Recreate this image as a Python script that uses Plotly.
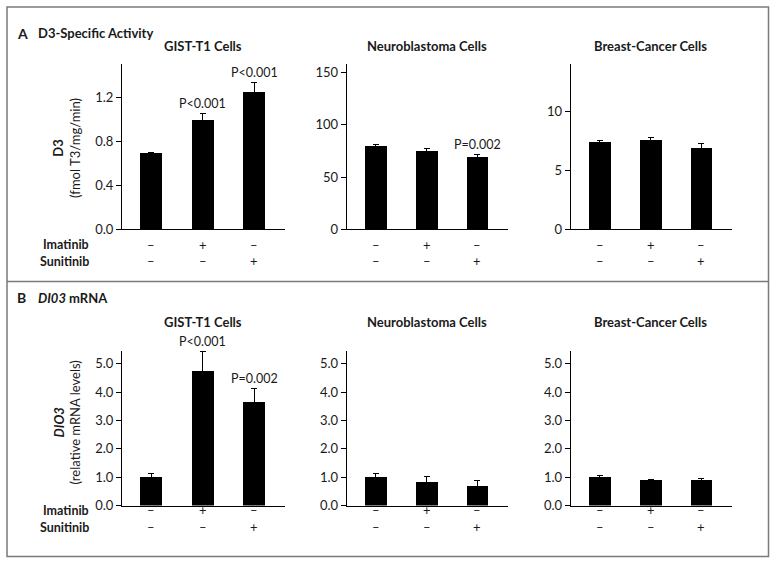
import plotly.graph_objects as go

W, H = 776, 571

conditions = ["Control", "Imatinib", "Sunitinib"]
imatinib_signs = ["–", "+", "–"]
sunitinib_signs = ["–", "–", "+"]
cell_lines = ["GIST-T1 Cells", "Neuroblastoma Cells", "Breast-Cancer Cells"]

# Panel A: D3-specific activity (fmol T3/mg/min)
d3_gist = [0.69, 0.99, 1.25]
d3_gist_err = [0.01, 0.065, 0.085]
d3_neuro = [80, 75, 69]
d3_neuro_err = [1, 2, 3]
d3_breast = [7.37, 7.58, 6.9]
d3_breast_err = [0.12, 0.18, 0.35]

# Panel B: DIO3 mRNA (relative levels)
dio3_gist = [1.0, 4.76, 3.66]
dio3_gist_err = [0.12, 0.68, 0.48]
dio3_neuro = [1.0, 0.84, 0.70]
dio3_neuro_err = [0.12, 0.17, 0.19]
dio3_breast = [1.01, 0.89, 0.89]
dio3_breast_err = [0.04, 0.03, 0.07]

# P-value labels: (row, col, condition index, text)
p_labels = [
    (0, 0, 1, "P<0.001"), (0, 0, 2, "P<0.001"),
    (0, 1, 2, "P=0.002"),
    (1, 0, 1, "P<0.001"), (1, 0, 2, "P=0.002"),
]

y_ranges = [[[0, 1.5], [0, 158], [0, 14]], [[0, 5.45], [0, 5.45], [0, 5.45]]]
y_ticks = [[[0, 0.4, 0.8, 1.2], [0, 50, 100, 150], [0, 5, 10]],
           [[0, 1, 2, 3, 4, 5]] * 3]
y_fmt = [[".1f", "d", "d"], [".1f", ".1f", ".1f"]]

data = [[(d3_gist, d3_gist_err), (d3_neuro, d3_neuro_err), (d3_breast, d3_breast_err)],
        [(dio3_gist, dio3_gist_err), (dio3_neuro, dio3_neuro_err), (dio3_breast, dio3_breast_err)]]

FONT = "Lato"
TXT = "#1a1a1a"

def px(x):
    return x / W

def py(y):
    return 1 - y / H

col_px = [(122, 285), (346.7, 508), (570.7, 732)]
row_px = [(65, 232.7), (356, 512.7)]
title_y = [47, 326.5]
sign_y = [(248, 265), (527.7, 544.3)]

fig = go.Figure()
layout = {}
annotations = []

for r in range(2):
    for c in range(3):
        idx = r * 3 + c + 1
        xa = "x" if idx == 1 else f"x{idx}"
        ya = "y" if idx == 1 else f"y{idx}"
        vals, errs = data[r][c]
        fig.add_trace(go.Bar(
            x=[0, 1, 2], y=vals, width=0.43,
            marker=dict(color="black", line=dict(width=0)),
            error_y=dict(type="data", array=errs, visible=True,
                         color="black", thickness=1, width=3),
            xaxis=xa, yaxis=ya, showlegend=False, hoverinfo="skip",
        ))
        layout[f"xaxis{'' if idx == 1 else idx}"] = dict(
            domain=[px(col_px[c][0]), px(col_px[c][1])],
            range=[-0.57, 2.6], showticklabels=False, ticks="",
            showline=True, linecolor="black", linewidth=1,
            showgrid=False, zeroline=False, anchor=ya, fixedrange=True,
        )
        layout[f"yaxis{'' if idx == 1 else idx}"] = dict(
            domain=[py(row_px[r][1]), py(row_px[r][0])],
            range=y_ranges[r][c], tickvals=y_ticks[r][c], tickformat=y_fmt[r][c],
            ticks="outside", ticklen=5, tickwidth=1, tickcolor="black",
            showline=True, linecolor="black", linewidth=1,
            showgrid=False, zeroline=False, anchor=xa,
            tickfont=dict(family=FONT, size=13, color=TXT), fixedrange=True,
        )
        # column title
        annotations.append(dict(
            text=f"<b>{cell_lines[c]}</b>", xref=xa, yref="paper",
            x=1, y=py(title_y[r]), showarrow=False, xanchor="center", yanchor="middle",
            font=dict(family=FONT, size=13, color=TXT)))
        # treatment signs
        for i in range(3):
            annotations.append(dict(
                text=imatinib_signs[i], xref=xa, yref="paper", x=i, y=py(sign_y[r][0]),
                showarrow=False, font=dict(family=FONT, size=13, color=TXT)))
            annotations.append(dict(
                text=sunitinib_signs[i], xref=xa, yref="paper", x=i, y=py(sign_y[r][1]),
                showarrow=False, font=dict(family=FONT, size=13, color=TXT)))
    # row labels for treatments
    annotations.append(dict(text="<b>Imatinib</b>", xref="paper", yref="paper",
                            x=px(91), y=py(sign_y[r][0]), xanchor="right", showarrow=False,
                            font=dict(family=FONT, size=12.5, color=TXT)))
    annotations.append(dict(text="<b>Sunitinib</b>", xref="paper", yref="paper",
                            x=px(91), y=py(sign_y[r][1]), xanchor="right", showarrow=False,
                            font=dict(family=FONT, size=12.5, color=TXT)))

for (r, c, i, t) in p_labels:
    idx = r * 3 + c + 1
    xa = "x" if idx == 1 else f"x{idx}"
    ya = "y" if idx == 1 else f"y{idx}"
    vals, errs = data[r][c]
    annotations.append(dict(text=t, xref=xa, yref=ya, x=i, y=vals[i] + errs[i],
                            yanchor="bottom", yshift=0, showarrow=False,
                            font=dict(family=FONT, size=12.5, color=TXT)))

# panel headers
annotations += [
    dict(text="<b>A</b>", xref="paper", yref="paper", x=px(15), y=py(23),
         xanchor="left", showarrow=False, font=dict(family=FONT, size=14, color=TXT)),
    dict(text="<b>D3-Specific Activity</b>", xref="paper", yref="paper", x=px(36), y=py(23.5),
         xanchor="left", showarrow=False, font=dict(family=FONT, size=13, color=TXT)),
    dict(text="<b>B</b>", xref="paper", yref="paper", x=px(15), y=py(302),
         xanchor="left", showarrow=False, font=dict(family=FONT, size=14, color=TXT)),
    dict(text="<b><i>DI03</i> mRNA</b>", xref="paper", yref="paper", x=px(36), y=py(302.5),
         xanchor="left", showarrow=False, font=dict(family=FONT, size=13, color=TXT)),
    dict(text="<b>D3</b><br>(fmol T3/mg/min)", xref="paper", yref="paper", x=px(67), y=py(150),
         textangle=-90, xanchor="center", yanchor="middle", showarrow=False,
         font=dict(family=FONT, size=13, color=TXT)),
    dict(text="<b><i>DIO3</i></b><br>(relative mRNA levels)", xref="paper", yref="paper",
         x=px(67), y=py(428.5), textangle=-90, xanchor="center", yanchor="middle",
         showarrow=False, font=dict(family=FONT, size=13, color=TXT)),
]

shapes = [
    dict(type="rect", xref="paper", yref="paper", x0=px(7), x1=px(768.5), y0=py(564.5), y1=py(7),
         line=dict(color="#7a7a7a", width=1.5)),
    dict(type="line", xref="paper", yref="paper", x0=px(7), x1=px(768.5), y0=py(285.5), y1=py(285.5),
         line=dict(color="#7a7a7a", width=1.5)),
]

fig.update_layout(
    width=W, height=H, margin=dict(l=0, r=0, t=0, b=0),
    paper_bgcolor="white", plot_bgcolor="white",
    annotations=annotations, shapes=shapes, bargap=0,
    **layout,
)

fig.write_html(
    "out.html",
    config={"displayModeBar": False, "staticPlot": True},
    post_script=(
        "var de=document.documentElement, b=document.body;"
        "de.style.margin='0';de.style.padding='0';de.style.overflow='hidden';"
        "de.style.width='776px';de.style.height='571px';"
        "b.style.margin='0';b.style.padding='0';b.style.overflow='hidden';"
        "b.style.width='776px';b.style.height='571px';"
        "var gd=document.getElementById('{plot_id}');"
        "gd.style.position='fixed';gd.style.left='0px';gd.style.top='0px';gd.style.overflow='hidden';"
    ),
)
